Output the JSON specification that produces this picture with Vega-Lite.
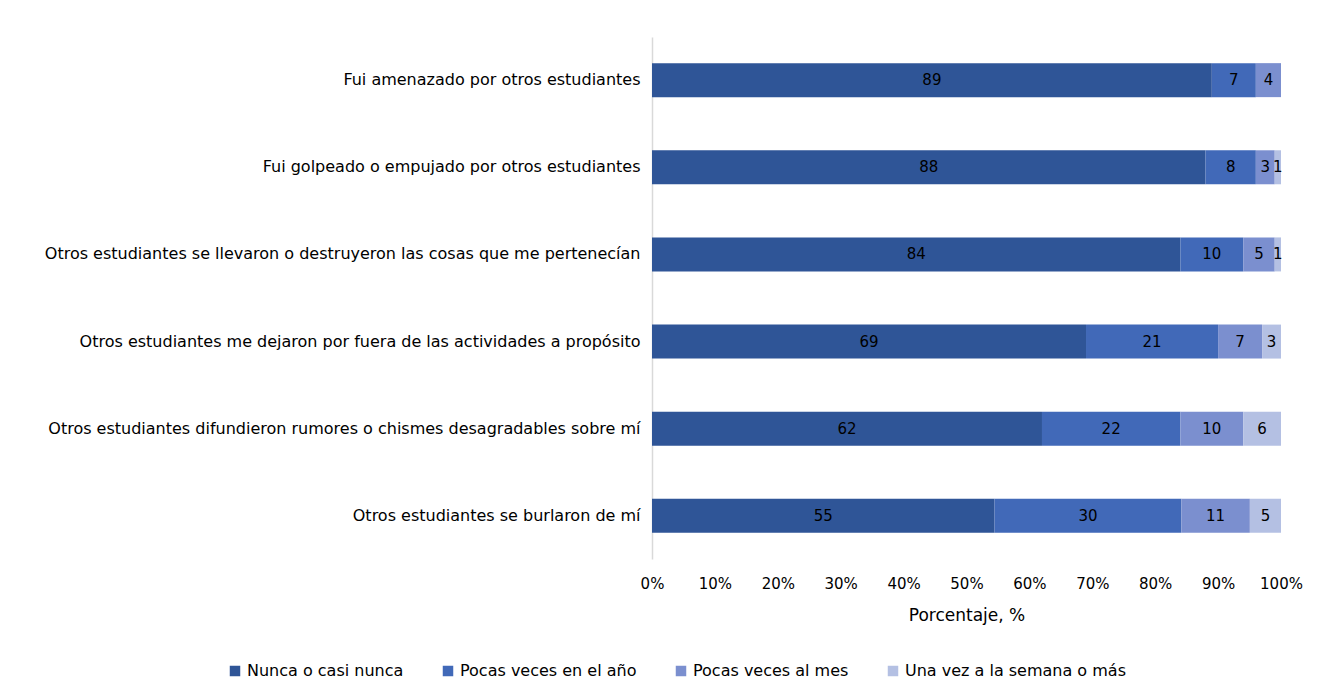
{
  "$schema": "https://vega.github.io/schema/vega-lite/v6.json",
  "width": 629,
  "height": 522,
  "autosize": "none",
  "padding": {"left": 652, "top": 37, "right": 37, "bottom": 134},
  "background": "white",
  "config": {"view": {"stroke": null}, "font": "DejaVu Sans"},
  "data": {
    "values": [
      {"item": "Fui amenazado por otros estudiantes", "cat": "Nunca o casi nunca", "o": 1, "v": 89},
      {"item": "Fui amenazado por otros estudiantes", "cat": "Pocas veces en el año", "o": 2, "v": 7},
      {"item": "Fui amenazado por otros estudiantes", "cat": "Pocas veces al mes", "o": 3, "v": 4},
      {"item": "Fui golpeado o empujado por otros estudiantes", "cat": "Nunca o casi nunca", "o": 1, "v": 88},
      {"item": "Fui golpeado o empujado por otros estudiantes", "cat": "Pocas veces en el año", "o": 2, "v": 8},
      {"item": "Fui golpeado o empujado por otros estudiantes", "cat": "Pocas veces al mes", "o": 3, "v": 3},
      {"item": "Fui golpeado o empujado por otros estudiantes", "cat": "Una vez a la semana o más", "o": 4, "v": 1},
      {"item": "Otros estudiantes se llevaron o destruyeron las cosas que me pertenecían", "cat": "Nunca o casi nunca", "o": 1, "v": 84},
      {"item": "Otros estudiantes se llevaron o destruyeron las cosas que me pertenecían", "cat": "Pocas veces en el año", "o": 2, "v": 10},
      {"item": "Otros estudiantes se llevaron o destruyeron las cosas que me pertenecían", "cat": "Pocas veces al mes", "o": 3, "v": 5},
      {"item": "Otros estudiantes se llevaron o destruyeron las cosas que me pertenecían", "cat": "Una vez a la semana o más", "o": 4, "v": 1},
      {"item": "Otros estudiantes me dejaron por fuera de las actividades a propósito", "cat": "Nunca o casi nunca", "o": 1, "v": 69},
      {"item": "Otros estudiantes me dejaron por fuera de las actividades a propósito", "cat": "Pocas veces en el año", "o": 2, "v": 21},
      {"item": "Otros estudiantes me dejaron por fuera de las actividades a propósito", "cat": "Pocas veces al mes", "o": 3, "v": 7},
      {"item": "Otros estudiantes me dejaron por fuera de las actividades a propósito", "cat": "Una vez a la semana o más", "o": 4, "v": 3},
      {"item": "Otros estudiantes difundieron rumores o chismes desagradables sobre mí", "cat": "Nunca o casi nunca", "o": 1, "v": 62},
      {"item": "Otros estudiantes difundieron rumores o chismes desagradables sobre mí", "cat": "Pocas veces en el año", "o": 2, "v": 22},
      {"item": "Otros estudiantes difundieron rumores o chismes desagradables sobre mí", "cat": "Pocas veces al mes", "o": 3, "v": 10},
      {"item": "Otros estudiantes difundieron rumores o chismes desagradables sobre mí", "cat": "Una vez a la semana o más", "o": 4, "v": 6},
      {"item": "Otros estudiantes se burlaron de mí", "cat": "Nunca o casi nunca", "o": 1, "v": 55},
      {"item": "Otros estudiantes se burlaron de mí", "cat": "Pocas veces en el año", "o": 2, "v": 30},
      {"item": "Otros estudiantes se burlaron de mí", "cat": "Pocas veces al mes", "o": 3, "v": 11},
      {"item": "Otros estudiantes se burlaron de mí", "cat": "Una vez a la semana o más", "o": 4, "v": 5}
    ]
  },
  "encoding": {
    "y": {
      "field": "item", "type": "nominal", "sort": null, "title": null,
      "scale": {"paddingInner": 0.61, "paddingOuter": 0.3},
      "axis": {"domainColor": "#d9d9d9", "domainWidth": 1.5, "ticks": false, "labelFontSize": 16, "labelColor": "#000000", "labelPadding": 12, "labelLimit": 700, "labelFont": "DejaVu Sans"}
    },
    "x": {
      "field": "v", "type": "quantitative", "stack": "normalize",
      "title": "Porcentaje, %",
      "axis": {"format": ".0%", "values": [0,0.1,0.2,0.3,0.4,0.5,0.6,0.7,0.8,0.9,1], "labelOverlap": false, "labelFlush": false, "grid": false, "domain": false, "ticks": false, "labelFontSize": 15, "labelColor": "#000000", "labelPadding": 17, "titleFontSize": 17, "titleFontWeight": "normal", "titleColor": "#000000", "titlePadding": 16, "labelFont": "DejaVu Sans", "titleFont": "DejaVu Sans"}
    },
    "order": {"field": "o", "type": "quantitative"}
  },
  "layer": [
    {
      "mark": {"type": "bar"},
      "encoding": {
        "color": {
          "field": "cat", "type": "nominal", "title": null,
          "scale": {
            "domain": ["Nunca o casi nunca", "Pocas veces en el año", "Pocas veces al mes", "Una vez a la semana o más"],
            "range": ["#2f5597", "#4169b8", "#7b8fcf", "#b4c0e3"]
          },
          "legend": {
            "orient": "none", "legendX": -425, "legendY": 626, "direction": "horizontal",
            "symbolType": "square", "symbolSize": 110, "symbolStrokeWidth": 0,
            "labelFontSize": 16, "labelColor": "#000000", "labelFont": "DejaVu Sans",
            "columnPadding": 36, "labelOffset": 4, "labelLimit": 400
          }
        }
      }
    },
    {
      "mark": {"type": "text", "fontSize": 15, "color": "#000000", "font": "DejaVu Sans"},
      "encoding": {
        "x": {"field": "v", "type": "quantitative", "stack": "normalize", "bandPosition": 0.5},
        "text": {"field": "v", "type": "quantitative"}
      }
    }
  ]
}
